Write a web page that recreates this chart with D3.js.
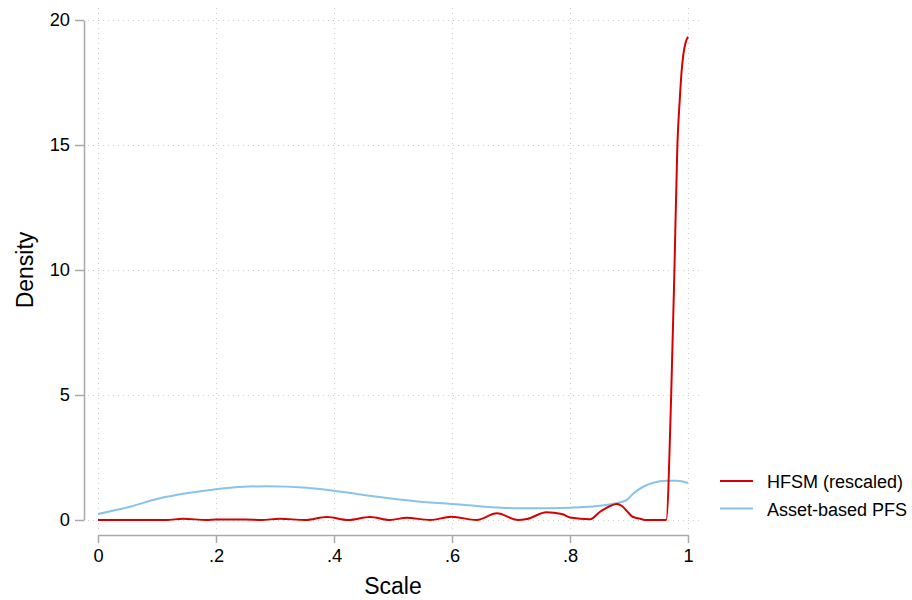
<!DOCTYPE html>
<html>
<head>
<meta charset="utf-8">
<script src="https://cdn.jsdelivr.net/npm/d3@7"></script>
<style>
  html, body { margin: 0; padding: 0; background: #fff; }
  svg text { font-family: "Liberation Sans", Arial, Helvetica, sans-serif; fill: #000; }
</style>
</head>
<body>
<div id="chart"></div>
<script>
// ── Kernel density: HFSM (rescaled) vs Asset-based PFS ───────
const xTicks = [0, 0.2, 0.4, 0.6, 0.8, 1];
const xTickLabels = ["0", ".2", ".4", ".6", ".8", "1"];
const yTicks = [0, 5, 10, 15, 20];
const seriesNames = ["HFSM (rescaled)", "Asset-based PFS"];

// HFSM (rescaled): scale value, density
const hfsmX = [0, 0.05, 0.116, 0.144, 0.184, 0.2, 0.25, 0.277, 0.308, 0.351, 0.388, 0.424,
  0.461, 0.495, 0.523, 0.563, 0.599, 0.642, 0.676, 0.712, 0.727, 0.76, 0.786, 0.8, 0.834,
  0.851, 0.868, 0.879, 0.888, 0.896, 0.906, 0.919, 0.927, 0.963, 0.9715, 0.977, 0.982,
  0.986, 0.989, 0.992, 0.996, 1];
const hfsmY = [0, 0, 0, 0.05, 0, 0.02, 0.02, 0, 0.05, 0, 0.12, 0,
  0.12, 0, 0.09, 0, 0.13, 0, 0.27, 0, 0.04, 0.31, 0.24, 0.1, 0.03,
  0.33, 0.56, 0.64, 0.56, 0.37, 0.13, 0.05, 0, 0, 5, 10, 15,
  16.8, 17.9, 18.6, 19.1, 19.33];

// Asset-based PFS: scale value, density
const pfsX = [0, 0.054, 0.105, 0.15, 0.2, 0.24, 0.286, 0.354, 0.4, 0.45, 0.5, 0.534, 0.6,
  0.647, 0.715, 0.76, 0.817, 0.851, 0.873, 0.896, 0.907, 0.924, 0.941, 0.964, 0.981, 1];
const pfsY = [0.24, 0.53, 0.87, 1.07, 1.23, 1.32, 1.35, 1.29, 1.17, 1.0, 0.85, 0.76, 0.64,
  0.55, 0.47, 0.47, 0.51, 0.57, 0.65, 0.8, 1.05, 1.33, 1.49, 1.57, 1.57, 1.48];

const colors = ["#d60000", "#89c3eb"];

const width = 912, height = 600;
const svg = d3.select("#chart").append("svg")
  .attr("width", width).attr("height", height);

const x = d3.scaleLinear().domain([0, 1]).range([98, 688]);
const y = d3.scaleLinear().domain([0, 20]).range([520, 20]);

// Gridlines (dotted)
const grid = svg.append("g").attr("stroke", "#cfcfcf").attr("stroke-width", 1)
  .attr("stroke-dasharray", "1,4");
grid.selectAll("line.h").data(yTicks).join("line").attr("class", "h")
  .attr("x1", x(0) - 10).attr("x2", x(1) + 14)
  .attr("y1", d => y(d) + 0.5).attr("y2", d => y(d) + 0.5);
grid.selectAll("line.v").data(xTicks).join("line").attr("class", "v")
  .attr("y1", y(20) - 12).attr("y2", y(0) + 11)
  .attr("x1", d => x(d) + 0.5).attr("x2", d => x(d) + 0.5);

// Axes
const xAxis = svg.append("g").attr("transform", "translate(0,535)")
  .call(d3.axisBottom(x).tickValues(xTicks).tickFormat((d, i) => xTickLabels[i])
    .tickSize(8).tickSizeOuter(0).tickPadding(6));
const yAxis = svg.append("g").attr("transform", "translate(84,0)")
  .call(d3.axisLeft(y).tickValues(yTicks).tickSize(9).tickSizeOuter(0).tickPadding(5));
[xAxis, yAxis].forEach(a => {
  a.selectAll("path, line").attr("stroke", "#a9a9a9").attr("stroke-width", 1.5);
  a.selectAll("text").style("font-size", "18.3px")
    .style("font-family", '"Liberation Sans", Arial, sans-serif').attr("fill", "#000");
});

// Axis titles
svg.append("text").attr("x", 393).attr("y", 594).attr("text-anchor", "middle")
  .style("font-size", "23px").text("Scale");
svg.append("text").attr("transform", "translate(33,270) rotate(-90)")
  .attr("text-anchor", "middle").style("font-size", "23px").text("Density");

// Density lines
const line = d3.line().x(d => x(d[0])).y(d => y(d[1])).curve(d3.curveMonotoneX);
const series = [
  d3.zip(hfsmX, hfsmY),
  d3.zip(pfsX, pfsY)
];
svg.append("path").datum(series[1]).attr("d", line)
  .attr("fill", "none").attr("stroke", colors[1]).attr("stroke-width", 2);
svg.append("path").datum(series[0]).attr("d", line)
  .attr("fill", "none").attr("stroke", colors[0]).attr("stroke-width", 2);

// Legend
const legend = svg.append("g").attr("transform", "translate(720,481)");
seriesNames.forEach((name, i) => {
  const row = legend.append("g").attr("transform", `translate(0,${i * 27.5})`);
  row.append("line").attr("x1", 0).attr("x2", 33).attr("y1", 0).attr("y2", 0)
    .attr("stroke", colors[i]).attr("stroke-width", 2);
  row.append("text").attr("x", 47).attr("y", 7).style("font-size", "18px").text(name);
});
</script>
</body>
</html>
